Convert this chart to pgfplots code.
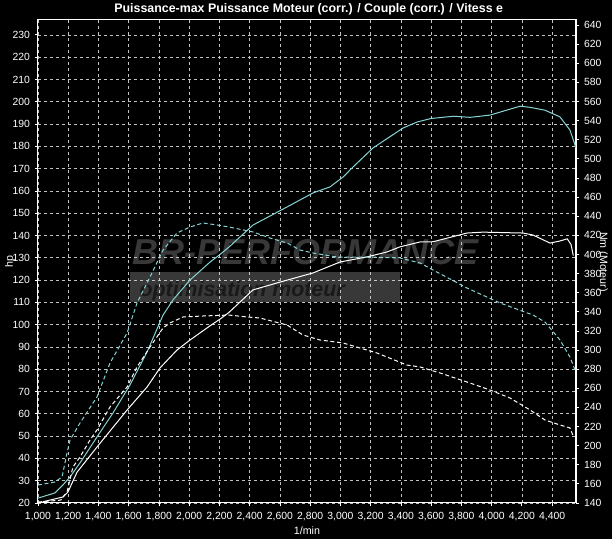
\documentclass[border=0pt]{standalone}
\usepackage{fontspec}
\setmainfont{Liberation Sans}
\usepackage{pgfplots}
\pgfplotsset{compat=1.18}
\definecolor{cy}{RGB}{135,212,212}
\definecolor{gridc}{RGB}{195,195,195}
\definecolor{wm}{RGB}{56,56,56}

\pgfplotstableread{
rpm hp
1000 22.2
1112 24.5
1165 28.1
1212 31.7
1278 38.0
1390 49.6
1496 60.4
1608 72.9
1721 87.7
1827 104.3
1893 111.1
2005 120.0
2138 128.1
2204 131.5
2263 134.8
2422 144.7
2647 152.8
2819 159.1
2931 161.8
3017 166.2
3083 170.7
3216 179.3
3414 188.2
3507 190.9
3600 192.5
3750 193.5
3857 193.0
3989 194.0
4088 196.0
4188 198.0
4254 197.5
4353 196.2
4452 193.2
4518 187.3
4558 179.3
}\cyanpower

\pgfplotstableread{
rpm hp
1030 20.5
1165 22.7
1198 24.9
1258 33.8
1390 45.1
1589 61.7
1721 72.0
1807 80.6
1919 88.6
2005 93.1
2138 99.5
2204 102.5
2263 105.5
2422 115.6
2601 119.1
2819 123.2
2997 128.1
3176 130.4
3308 132.6
3394 134.9
3527 137.1
3613 137.2
3837 141.1
3943 141.5
4208 141.1
4274 140.2
4386 136.6
4450 137.5
4500 138.5
4525 136.0
4540 131.0
}\whitepower

\pgfplotstableread{
rpm nm
1000 158.8
1112 162.0
1159 167.2
1192 192.3
1212 205.9
1278 223.7
1390 250.9
1476 286.4
1589 317.8
1655 349.2
1741 376.4
1827 404.6
1919 422.4
2005 428.7
2091 432.9
2184 430.8
2263 428.7
2422 423.5
2534 417.2
2647 412.0
2733 404.6
2819 401.5
2978 397.3
3196 397.3
3394 396.3
3527 391.0
3613 383.7
3837 364.9
4056 349.2
4274 336.6
4353 329.3
4452 310.5
4518 292.7
4552 279.1
}\cyantorque

\pgfplotstableread{
rpm nm
1000 141.0
1150 143.0
1192 151.5
1231 177.7
1278 188.1
1344 205.9
1390 216.4
1476 240.4
1589 261.3
1655 282.3
1741 303.2
1827 323.1
1873 328.3
1959 334.6
2091 335.6
2263 336.6
2382 334.6
2468 333.5
2647 326.2
2753 315.7
2865 310.5
3017 307.4
3130 302.1
3242 296.9
3308 292.7
3440 284.3
3527 282.3
3659 276.0
3857 265.5
3989 258.2
4122 249.8
4254 237.3
4353 226.8
4452 221.6
4518 218.5
4537 211.1
}\whitetorque

\begin{document}
\begin{tikzpicture}
\path[fill=black, use as bounding box] (-28.5pt,-27pt) rectangle (430.5pt,377.25pt);
% watermark
\fill[wm] (69pt,150.75pt) rectangle (271.5pt,173.25pt);
\node[anchor=base west, inner sep=0, text=wm, font=\fontsize{27pt}{27pt}\selectfont\bfseries\itshape] at (71pt,178.5pt) {BR-PERFORMANCE};
\node[anchor=base west, inner sep=0, text=black!90, font=\fontsize{16pt}{16pt}\selectfont\bfseries\itshape] at (76pt,155pt) {optimisation moteur};

\begin{axis}[
  at={(0,0)}, anchor=south west,
  scale only axis, width=403.5pt, height=362.8pt,
  xmin=1000, xmax=4558, ymin=20, ymax=237,
  xtick={1000,1200,...,4400}, ytick={20,30,...,230},
  xtick pos=bottom, ytick pos=left,
  tick align=outside, major tick length=2.5pt,
  axis line style={white, line width=0.75pt},
  tick style={white, line width=0.6pt},
  grid=major,
  major grid style={gridc, line width=0.5pt, dash pattern=on 2.25pt off 2.25pt},
  ticklabel style={white, font=\fontsize{7.8pt}{8pt}\selectfont},
  /pgf/number format/assume math mode=true,
  x tick label style={/pgf/number format/1000 sep={,}},
  y tick label style={/pgf/number format/1000 sep={}},
  xticklabel style={yshift=-1pt},
]
\addplot[cy, line width=0.75pt] table[x=rpm, y=hp] {\cyanpower};
\addplot[white, line width=0.75pt] table[x=rpm, y=hp] {\whitepower};
\end{axis}

\begin{axis}[
  at={(0,0)}, anchor=south west,
  scale only axis, width=403.5pt, height=362.8pt,
  xmin=1000, xmax=4558, ymin=140, ymax=646,
  axis x line=none, axis y line*=right,
  ytick={140,160,...,640},
  tick align=outside, major tick length=2.5pt,
  axis line style={white, line width=0.75pt},
  tick style={white, line width=0.6pt},
  ticklabel style={white, font=\fontsize{7.8pt}{8pt}\selectfont},
  /pgf/number format/assume math mode=true,
  y tick label style={/pgf/number format/1000 sep={}},
]
\addplot[cy, line width=0.75pt, dash pattern=on 3pt off 2pt] table[x=rpm, y=nm] {\cyantorque};
\addplot[white, line width=0.75pt, dash pattern=on 3pt off 2pt] table[x=rpm, y=nm] {\whitetorque};
\end{axis}

\node[white, font=\fontsize{9.3pt}{10pt}\selectfont\bfseries] at (203pt,370.5pt) {Puissance-max Puissance Moteur (corr.) / Couple (corr.) / Vitess e};
\node[white, font=\fontsize{8pt}{8pt}\selectfont] at (201.75pt,-21pt) {1/min};
\node[white, rotate=90, font=\fontsize{8pt}{8pt}\selectfont] at (-21pt,180.75pt) {hp};
\node[white, rotate=-90, font=\fontsize{8pt}{8pt}\selectfont] at (423.75pt,180.75pt) {Nm (Moteur)};
\end{tikzpicture}
\end{document}
